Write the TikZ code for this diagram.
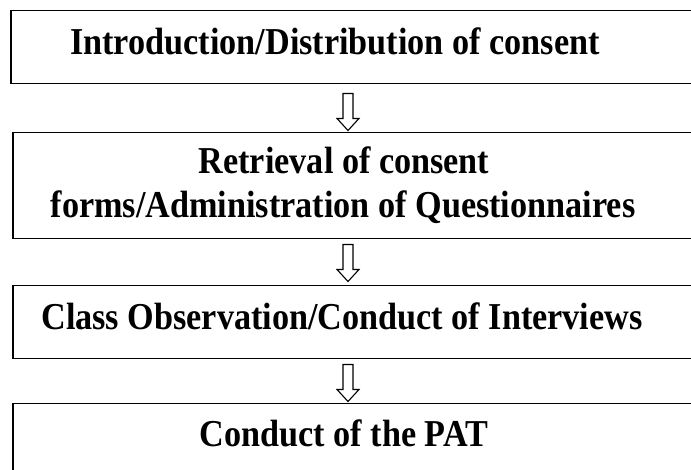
\documentclass[tikz,border=0pt]{standalone}
\usepackage{fontspec}
\setmainfont{Liberation Serif}[FakeStretch=0.9]
\usetikzlibrary{calc}
\tikzset{
  stagebox/.style={draw=black, line width=1.5pt, fill=none, anchor=north west, minimum width=760pt, inner sep=0pt},
  stagetext/.style={font=\fontsize{38}{44}\selectfont\bfseries, anchor=base, inner sep=0pt},
  hollowarrow/.pic={\draw[line width=1.1pt, fill=white, line join=miter]
     (-5,0) -- (-5,-25) -- (-11,-25) -- (0,-37) -- (11,-25) -- (5,-25) -- (5,0) -- cycle;}
}
\begin{document}
\begin{tikzpicture}[x=1pt,y=1pt]
\useasboundingbox (0,0) rectangle (691,470);
\fill[white] (0,0) rectangle (691,470);
\node[stagebox, minimum height=73pt] (b1) at (10,460) {};
\node[stagebox, minimum height=106pt] (b2) at (12,338) {};
\node[stagebox, minimum height=73pt] (b3) at (12,185) {};
\node[stagebox, minimum height=110pt] (b4) at (12,67) {};
\coordinate (ax) at (348,0);
\node[stagetext] (t1) at (335,415) {Introduction/Distribution of consent};
\node[stagetext] (t2a) at (344,296) {Retrieval of consent};
\node[stagetext] (t2b) at (343,252) {forms/Administration of Questionnaires};
\node[stagetext] (t3) at (342,140) {Class Observation/Conduct of Interviews};
\node[stagetext] (t4) at (344,23) {Conduct of the PAT};
\pic at ($(b1.south -| ax)+(0,-9)$) {hollowarrow};
\pic at ($(b2.south -| ax)+(0,-5)$) {hollowarrow};
\pic at ($(b3.south -| ax)+(0,-5)$) {hollowarrow};
\end{tikzpicture}
\end{document}
